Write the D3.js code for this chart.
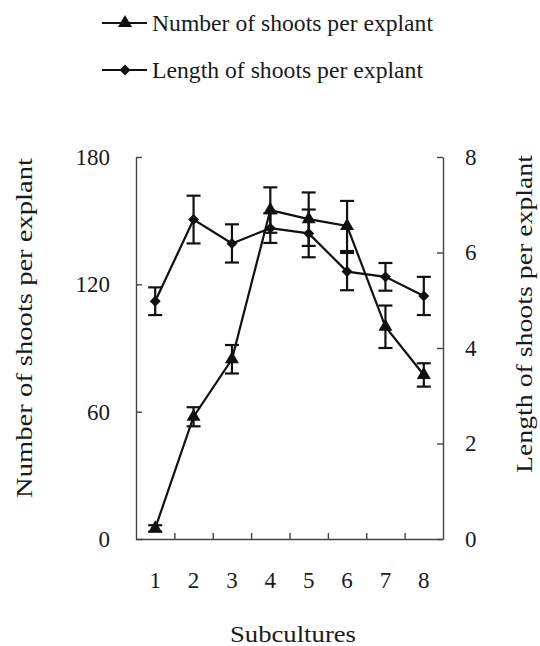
<!DOCTYPE html>
<html>
<head>
<meta charset="utf-8">
<script src="https://cdn.jsdelivr.net/npm/d3@7"></script>
<style>
  body { margin: 0; background: #fff; }
  text { font-family: "Liberation Serif", "Times New Roman", serif; fill: #1a1a1a; }
</style>
</head>
<body>
<div class="chart"></div>
<script>
var width = 540,
    height = 646;

// subcultures on the x axis
var subcultures = ["1", "2", "3", "4", "5", "6", "7", "8"];
// number of shoots per explant (left axis) and its error
var shootNumber = [5, 57.6, 84.7, 155, 150.7, 147.5, 100, 77.3];
var shootNumberErr = [1.5, 4.5, 6.7, 10.7, 12.6, 11.8, 10, 5.5];
// length of shoots per explant (right axis) and its error
var shootLength = [4.98, 6.69, 6.19, 6.51, 6.40, 5.60, 5.49, 5.09];
var shootLengthErr = [0.29, 0.5, 0.4, 0.31, 0.5, 0.39, 0.29, 0.4];
var leftTicks = [0, 60, 120, 180];
var rightTicks = [0, 2, 4, 6, 8];
var legendLabels = ["Number of shoots per explant", "Length of shoots per explant"];
var legendWidths = [281, 271];

var plotLeft = 136, plotRight = 443, plotTop = 157, plotBottom = 539;

var x = d3.scaleBand().domain(subcultures).range([plotLeft, plotRight]).padding(0);
var xEdge = d3.scaleLinear().domain([0, subcultures.length]).range([plotLeft, plotRight]);
var yLeft = d3.scaleLinear().domain([0, 180]).range([plotBottom, plotTop]);
var yRight = d3.scaleLinear().domain([0, 8]).range([plotBottom, plotTop]);

var svg = d3.select(".chart").append("svg")
    .attr("width", width)
    .attr("height", height);

// axes
var axisColor = "#444";

var gl = svg.append("g")
    .attr("transform", "translate(" + plotLeft + ",0)")
    .call(d3.axisLeft(yLeft).tickValues(leftTicks).tickSizeInner(-6).tickSizeOuter(0).tickPadding(26));

var gr = svg.append("g")
    .attr("transform", "translate(" + plotRight + ",0)")
    .call(d3.axisRight(yRight).tickValues(rightTicks).tickSizeInner(-6).tickSizeOuter(0).tickPadding(22));

var gb = svg.append("g")
    .attr("transform", "translate(0," + plotBottom + ")")
    .call(d3.axisBottom(xEdge).tickValues(d3.range(1, subcultures.length)).tickFormat("").tickSizeInner(-6).tickSizeOuter(0));

var gbl = svg.append("g")
    .attr("transform", "translate(0," + plotBottom + ")")
    .call(d3.axisBottom(x).tickSize(0).tickPadding(33));
gbl.select(".domain").remove();

[gl, gr, gb].forEach(function(g) {
  g.selectAll("path, line").attr("stroke", axisColor).attr("stroke-width", 1.4);
});
[gl, gr, gbl].forEach(function(g) {
  g.selectAll("text")
    .attr("font-family", "Liberation Serif, Times New Roman, serif")
    .attr("font-size", 23)
    .attr("fill", "#1a1a1a");
});

// axis titles
svg.append("text")
    .attr("transform", "translate(32,328) rotate(-90)")
    .attr("text-anchor", "middle")
    .attr("font-size", 23)
    .attr("textLength", 340)
    .attr("lengthAdjust", "spacingAndGlyphs")
    .text("Number of shoots per explant");

svg.append("text")
    .attr("transform", "translate(532,314) rotate(-90)")
    .attr("text-anchor", "middle")
    .attr("font-size", 23)
    .attr("textLength", 318)
    .attr("lengthAdjust", "spacingAndGlyphs")
    .text("Length of shoots per explant");

svg.append("text")
    .attr("x", 293)
    .attr("y", 642)
    .attr("text-anchor", "middle")
    .attr("font-size", 23)
    .attr("textLength", 126)
    .attr("lengthAdjust", "spacingAndGlyphs")
    .text("Subcultures");

var cx = function(d, i) { return x(subcultures[i]) + x.bandwidth() / 2; };
var triangle = d3.symbol().type(d3.symbolTriangle).size(85);
var diamond = d3.symbol().type(d3.symbolSquare).size(60);

function drawSeries(vals, errs, y, marker, rot) {
  var g = svg.append("g");
  var bars = g.selectAll(".err").data(vals).enter().append("g");
  bars.append("line")
      .attr("x1", cx).attr("x2", cx)
      .attr("y1", function(d, i) { return y(d - errs[i]); })
      .attr("y2", function(d, i) { return y(d + errs[i]); });
  bars.append("line")
      .attr("x1", function(d, i) { return cx(d, i) - 7; })
      .attr("x2", function(d, i) { return cx(d, i) + 7; })
      .attr("y1", function(d, i) { return y(d + errs[i]); })
      .attr("y2", function(d, i) { return y(d + errs[i]); });
  bars.append("line")
      .attr("x1", function(d, i) { return cx(d, i) - 7; })
      .attr("x2", function(d, i) { return cx(d, i) + 7; })
      .attr("y1", function(d, i) { return y(d - errs[i]); })
      .attr("y2", function(d, i) { return y(d - errs[i]); });
  bars.selectAll("line").attr("stroke", "#111").attr("stroke-width", 2.2);

  g.append("path")
      .datum(vals)
      .attr("fill", "none")
      .attr("stroke", "#111")
      .attr("stroke-width", 2.2)
      .attr("d", d3.line().x(cx).y(function(d) { return y(d); }));

  g.selectAll(".mark").data(vals).enter().append("path")
      .attr("transform", function(d, i) {
        return "translate(" + cx(d, i) + "," + y(d) + ") rotate(" + rot + ")";
      })
      .attr("d", marker)
      .attr("fill", "#111");
}

drawSeries(shootLength, shootLengthErr, yRight, diamond, 45);
drawSeries(shootNumber, shootNumberErr, yLeft, triangle, 0);

// legend
var legend = svg.append("g");
var markers = [triangle, diamond];
var rots = [0, 45];
legendLabels.forEach(function(label, i) {
  var ly = 23 + i * 47;
  legend.append("line")
      .attr("x1", 102).attr("x2", 147)
      .attr("y1", ly).attr("y2", ly)
      .attr("stroke", "#111").attr("stroke-width", 2.2);
  legend.append("path")
      .attr("transform", "translate(125," + ly + ") rotate(" + rots[i] + ")")
      .attr("d", markers[i])
      .attr("fill", "#111");
  legend.append("text")
      .attr("x", 152)
      .attr("y", ly + 8)
      .attr("font-size", 23)
      .attr("textLength", legendWidths[i])
      .attr("lengthAdjust", "spacingAndGlyphs")
      .text(label);
});
</script>
</body>
</html>
